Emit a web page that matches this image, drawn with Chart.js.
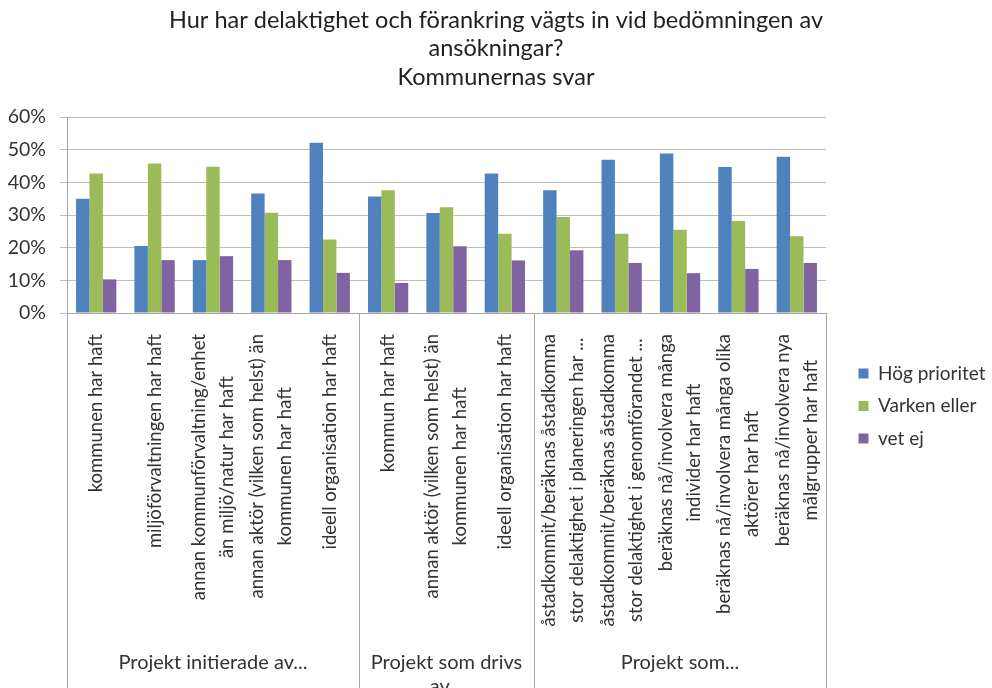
<!DOCTYPE html>
<html>
<head>
<meta charset="utf-8">
<script src="https://cdn.jsdelivr.net/npm/chart.js@4/dist/chart.umd.min.js"></script>
<style>
  html, body { margin: 0; padding: 0; background: #fff; }
  #wrap { width: 992px; height: 688px; }
</style>
</head>
<body>
<div id="wrap"><canvas id="c" width="992" height="688"></canvas></div>
<script>
const titleLines = ["Hur har delaktighet och förankring vägts in vid bedömningen av", "ansökningar?", "Kommunernas svar"];
const categories = [
  ["kommunen har haft"],
  ["miljöförvaltningen har haft"],
  ["annan kommunförvaltning/enhet", "än miljö/natur har haft"],
  ["annan aktör (vilken som helst) än", "kommunen har haft"],
  ["ideell organisation har haft"],
  ["kommun har haft"],
  ["annan aktör (vilken som helst) än", "kommunen har haft"],
  ["ideell organisation har haft"],
  ["åstadkommit/beräknas åstadkomma", "stor delaktighet i planeringen har ..."],
  ["åstadkommit/beräknas åstadkomma", "stor delaktighet i genomförandet ..."],
  ["beräknas nå/involvera många", "individer har haft"],
  ["beräknas nå/involvera många olika", "aktörer har haft"],
  ["beräknas nå/involvera nya", "målgrupper har haft"]
];
const groups = [
  { label: ["Projekt initierade av..."], from: 0, to: 4 },
  { label: ["Projekt som drivs", "av..."], from: 5, to: 7 },
  { label: ["Projekt som..."], from: 8, to: 12 }
];
const seriesNames = ["Hög prioritet", "Varken eller", "vet ej"];
const hogPrioritet = [35, 20.5, 16.2, 36.6, 52.1, 35.7, 30.6, 42.7, 37.6, 46.9, 48.8, 44.7, 47.8];
const varkenEller  = [42.7, 45.8, 44.8, 30.7, 22.5, 37.6, 32.4, 24.3, 29.4, 24.3, 25.5, 28.2, 23.5];
const vetEj        = [10.3, 16.2, 17.4, 16.2, 12.3, 9.2, 20.4, 16.1, 19.2, 15.3, 12.2, 13.5, 15.3];
const yTicks = [0, 10, 20, 30, 40, 50, 60];

const FONT = "Lato, 'Open Sans', sans-serif";
const TEXT = "#333333";
const AXIS = "#a6a6a6";

const layoutTweak = {
  id: 'layoutTweak',
  beforeUpdate(chart) {
    const lg = chart.legend;
    if (lg && !lg.__patched) {
      const origFit = lg.fit;
      lg.fit = function () { origFit.call(this); this.width = 166; };
      lg.__patched = true;
    }
  },
  afterLayout(chart) {
    const lg = chart.legend;
    if (lg) {
      lg.left += 19; lg.right += 19;
      lg.top += 62; lg.bottom += 62;
    }
  }
};

const groupAxisPlugin = {
  id: 'groupAxis',
  afterDraw(chart) {
    const ctx = chart.ctx;
    const xs = chart.scales.x;
    const area = chart.chartArea;
    const n = categories.length;
    const step = (xs.getPixelForValue(1) - xs.getPixelForValue(0));
    const bottomY = chart.height;
    ctx.save();
    ctx.strokeStyle = AXIS;
    ctx.lineWidth = 1;
    const bounds = [xs.getPixelForValue(0) - step / 2];
    groups.forEach(g => bounds.push(xs.getPixelForValue(g.to) + step / 2));
    bounds.forEach(b => {
      const bx = Math.round(b) + 0.5;
      ctx.beginPath();
      ctx.moveTo(bx, area.bottom);
      ctx.lineTo(bx, bottomY);
      ctx.stroke();
    });
    ctx.fillStyle = TEXT;
    ctx.font = "18.5px " + FONT;
    ctx.textAlign = 'center';
    ctx.textBaseline = 'middle';
    const lineGap = 28;
    const topY = area.bottom + 21;
    for (let i = 0; i < n; i++) {
      const lines = categories[i];
      const cx = xs.getPixelForValue(i);
      const w = Math.max(...lines.map(l => ctx.measureText(l).width));
      const cy = topY + w / 2;
      lines.forEach((l, j) => {
        const off = (j - (lines.length - 1) / 2) * lineGap;
        ctx.save();
        ctx.translate(cx + off, cy);
        ctx.rotate(-Math.PI / 2);
        ctx.fillText(l, 0, 0);
        ctx.restore();
      });
    }
    ctx.font = "20px " + FONT;
    groups.forEach((g, k) => {
      const gx = (bounds[k] + bounds[k + 1]) / 2;
      g.label.forEach((l, j) => {
        ctx.fillText(l, gx, 663 + j * 24);
      });
    });
    ctx.restore();
  }
};

new Chart(document.getElementById('c'), {
  type: 'bar',
  data: {
    labels: categories,
    datasets: [
      { label: seriesNames[0], data: hogPrioritet, backgroundColor: '#4F81BD' },
      { label: seriesNames[1], data: varkenEller, backgroundColor: '#9BBB59' },
      { label: seriesNames[2], data: vetEj, backgroundColor: '#8064A2' }
    ]
  },
  options: {
    responsive: false,
    devicePixelRatio: 1,
    animation: false,
    layout: { padding: { left: 0, right: 0, top: 0, bottom: 0 } },
    datasets: { bar: { categoryPercentage: 0.69, barPercentage: 1.0 } },
    plugins: {
      title: {
        display: true,
        text: titleLines,
        color: '#222',
        font: { family: FONT, size: 23.5, weight: 'normal', lineHeight: 1.213 },
        padding: { top: 5.75, bottom: 25.75 }
      },
      legend: {
        position: 'right',
        labels: {
          color: TEXT,
          font: { family: FONT, size: 19 },
          boxWidth: 10,
          boxHeight: 10,
          padding: 13.5
        }
      },
      tooltip: { enabled: false }
    },
    scales: {
      x: {
        type: 'category',
        ticks: { display: false },
        grid: { display: false },
        border: { display: true, color: AXIS },
        afterFit(scale) { scale.height = 375; }
      },
      y: {
        min: 0,
        max: 60,
        afterBuildTicks(scale) { scale.ticks = yTicks.map(v => ({ value: v })); },
        ticks: {
          color: TEXT,
          font: { family: FONT, size: 19.5 },
          padding: 14,
          callback: v => v + '%'
        },
        grid: { color: '#bdbdbd', tickLength: 7 },
        border: { display: true, color: AXIS },
        afterFit(scale) { scale.width = 67; }
      }
    }
  },
  plugins: [layoutTweak, groupAxisPlugin]
});
</script>
</body>
</html>
